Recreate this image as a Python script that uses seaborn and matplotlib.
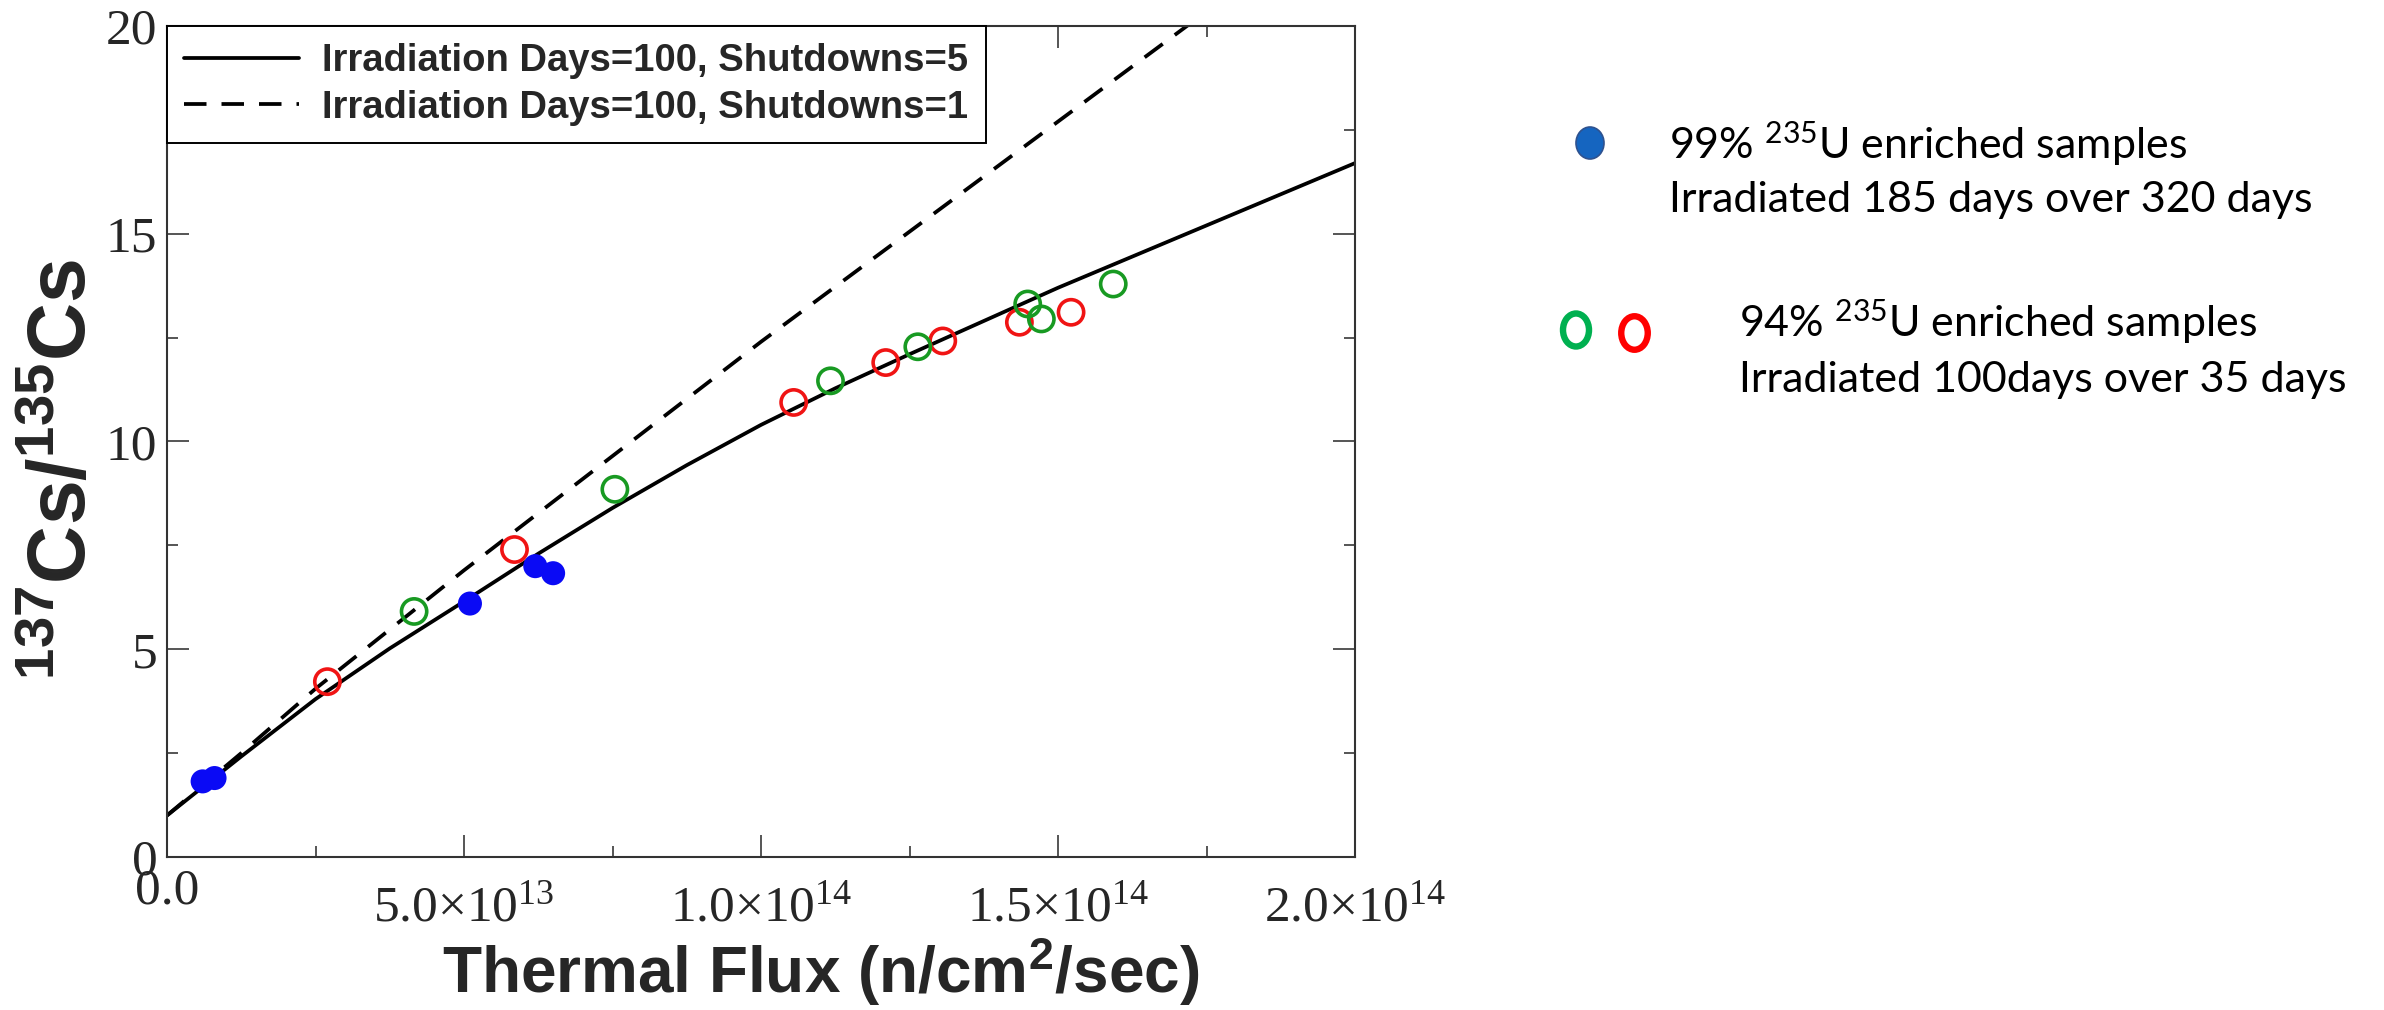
import numpy as np
import pandas as pd
import matplotlib
matplotlib.use("Agg")
import matplotlib.pyplot as plt
import seaborn as sns
from matplotlib.patches import Ellipse
from matplotlib.transforms import IdentityTransform
from matplotlib.ticker import FixedLocator

# ---------------- data ----------------
curve5_flux = [0.0, 1.25e13, 2.5e13, 3.75e13, 5.0e13, 6.25e13, 7.5e13, 8.75e13, 1.0e14,
               1.125e14, 1.25e14, 1.5e14, 1.75e14, 2.0e14]
curve5_ratio = [1.0, 2.42, 3.80, 5.02, 6.15, 7.30, 8.40, 9.43, 10.40,
                11.28, 12.10, 13.70, 15.20, 16.70]

curve1_flux = [0.0, 1.25e13, 2.5e13, 5.0e13, 7.5e13, 1.0e14, 1.25e14, 1.5e14, 1.75e14]
curve1_ratio = [1.0, 2.50, 4.05, 6.90, 9.65, 12.40, 15.05, 17.70, 20.35]

blue_flux = [0.6e13, 0.8e13, 5.1e13, 6.2e13, 6.5e13]
blue_ratio = [1.82, 1.90, 6.10, 7.00, 6.83]

red_flux = [2.7e13, 5.85e13, 10.55e13, 12.10e13, 13.06e13, 14.35e13, 15.22e13]
red_ratio = [4.22, 7.40, 10.94, 11.90, 12.42, 12.87, 13.11]

green_flux = [4.16e13, 7.54e13, 11.17e13, 12.64e13, 14.49e13, 14.72e13, 15.93e13]
green_ratio = [5.91, 8.85, 11.46, 12.28, 13.31, 12.95, 13.79]

line_labels = ["Irradiation Days=100, Shutdowns=5", "Irradiation Days=100, Shutdowns=1"]

x_ticks = [0.0, 5.0e13, 1.0e14, 1.5e14, 2.0e14]
x_ticklabels = ["0.0", "5.0\u00d710$^{13}$", "1.0\u00d710$^{14}$", "1.5\u00d710$^{14}$", "2.0\u00d710$^{14}$"]
x_minor = [2.5e13, 7.5e13, 1.25e14, 1.75e14]
y_ticks = [0, 5, 10, 15, 20]
y_ticklabels = ["0", "5", "10", "15", "20"]
y_minor = [2.5, 7.5, 12.5, 17.5]

note_99 = ["99% $^{235}$U enriched samples", "Irradiated 185 days over 320 days"]
note_94 = ["94% $^{235}$U enriched samples", "Irradiated 100days over 35 days"]

# ---------------- styling ----------------
sns.set_style("ticks")
plt.rcParams["font.family"] = ["Liberation Sans", "DejaVu Sans"]
plt.rcParams["mathtext.default"] = "regular"

W, H = 2384, 1010
AX_L, AX_R, AX_T, AX_B = 167, 1355, 26, 857
fig = plt.figure(figsize=(W / 100, H / 100), dpi=100)
ax = fig.add_axes([AX_L / W, 1 - AX_B / H, (AX_R - AX_L) / W, (AX_B - AX_T) / H])

df5 = pd.DataFrame({"flux": curve5_flux, "ratio": curve5_ratio})
df1 = pd.DataFrame({"flux": curve1_flux, "ratio": curve1_ratio})
sns.lineplot(data=df5, x="flux", y="ratio", ax=ax, color="black", lw=2.7,
             label=line_labels[0], sort=True, zorder=2)
sns.lineplot(data=df1, x="flux", y="ratio", ax=ax, color="black", lw=2.7,
             label=line_labels[1], sort=True, zorder=2)
ax.lines[1].set_dashes((6.0, 4))

dfb = pd.DataFrame({"flux": blue_flux, "ratio": blue_ratio})
dfr = pd.DataFrame({"flux": red_flux, "ratio": red_ratio})
dfg = pd.DataFrame({"flux": green_flux, "ratio": green_ratio})
sns.scatterplot(data=dfb, x="flux", y="ratio", ax=ax, color="#0a0af5", s=300,
                edgecolor="none", zorder=4, legend=False)
sns.scatterplot(data=dfr, x="flux", y="ratio", ax=ax, facecolor="none",
                edgecolor="#f01414", s=330, linewidth=2.6, zorder=4, legend=False)
sns.scatterplot(data=dfg, x="flux", y="ratio", ax=ax, facecolor="none",
                edgecolor="#189a22", s=330, linewidth=2.6, zorder=4, legend=False)

ax.set_xlim(0, 2.0e14)
ax.set_ylim(0, 20)

ax.xaxis.set_major_locator(FixedLocator(x_ticks))
ax.xaxis.set_minor_locator(FixedLocator(x_minor))
ax.yaxis.set_major_locator(FixedLocator(y_ticks))
ax.yaxis.set_minor_locator(FixedLocator(y_minor))
ax.set_yticklabels(y_ticklabels, fontfamily="Liberation Serif", fontsize=37)
ax.tick_params(axis="x", labelbottom=False)

# x tick labels: top-aligned like the original (labels with exponents sit lower)
ax_h = AX_B - AX_T
xtr = ax.get_xaxis_transform()
for xv, lab in zip(x_ticks, x_ticklabels):
    base_px = 903 if "^" not in lab else 921
    ax.text(xv, (AX_B - base_px) / ax_h, lab, transform=xtr, ha="center", va="baseline",
            fontfamily="Liberation Serif", fontsize=37, clip_on=False)

for s in ax.spines.values():
    s.set_visible(True)
    s.set_linewidth(1.5)
    s.set_color("#333333")

ax.tick_params(which="both", direction="in", top=True, right=True, color="#555555")
ax.tick_params(which="major", length=16, width=1.4)
ax.tick_params(which="minor", length=8, width=1.4)
ax.tick_params(axis="y", which="major", pad=7)

ax.set_xlabel("Thermal Flux (n/cm$^{2}$/sec)", fontsize=46, fontweight="bold",
              fontfamily="Liberation Sans")
ax.xaxis.set_label_coords((821 - AX_L) / (AX_R - AX_L), (AX_B - 993) / ax_h)
ax.xaxis.label.set_va("baseline")
ax.set_ylabel("$^{137}$Cs/$^{135}$Cs", fontsize=58, fontweight="bold",
              fontfamily="Liberation Sans")
ax.yaxis.set_label_coords((64 - AX_L) / (AX_R - AX_L), (AX_B - 470) / ax_h)
ax.yaxis.label.set_va("center")

leg = ax.legend(loc="upper left", bbox_to_anchor=(0, 1), borderaxespad=0,
                frameon=True, fancybox=False, edgecolor="black", framealpha=1,
                prop=dict(family="Liberation Sans", weight="bold", size=27.5),
                handlelength=3.0, handletextpad=0.62, borderpad=0.45,
                labelspacing=0.27)
leg.get_frame().set_linewidth(1.4)
leg.set_zorder(5)

# ---------------- right-hand key (figure annotation) ----------------
tr = IdentityTransform()
fig.add_artist(Ellipse((1590, H - 143), 28, 32, transform=tr,
                       facecolor="#1565c0", edgecolor="#2f528f", lw=1.2))
fig.add_artist(Ellipse((1576, H - 330), 26, 33, transform=tr,
                       facecolor="none", edgecolor="#00b050", lw=4.6))
fig.add_artist(Ellipse((1634.5, H - 333), 26.5, 33.5, transform=tr,
                       facecolor="none", edgecolor="#ff0000", lw=4.6))

note_font = dict(family=["Lato", "DejaVu Sans"], size=31, color="black", va="baseline", ha="left")
fig.text(1669 / W, 1 - 159 / H, note_99[0], **note_font)
fig.text(1669 / W, 1 - 212 / H, note_99[1], **note_font)
fig.text(1739 / W, 1 - 337 / H, note_94[0], **note_font)
fig.text(1739 / W, 1 - 392 / H, note_94[1], **note_font)

fig.savefig("out.png", dpi=100, facecolor="white")
